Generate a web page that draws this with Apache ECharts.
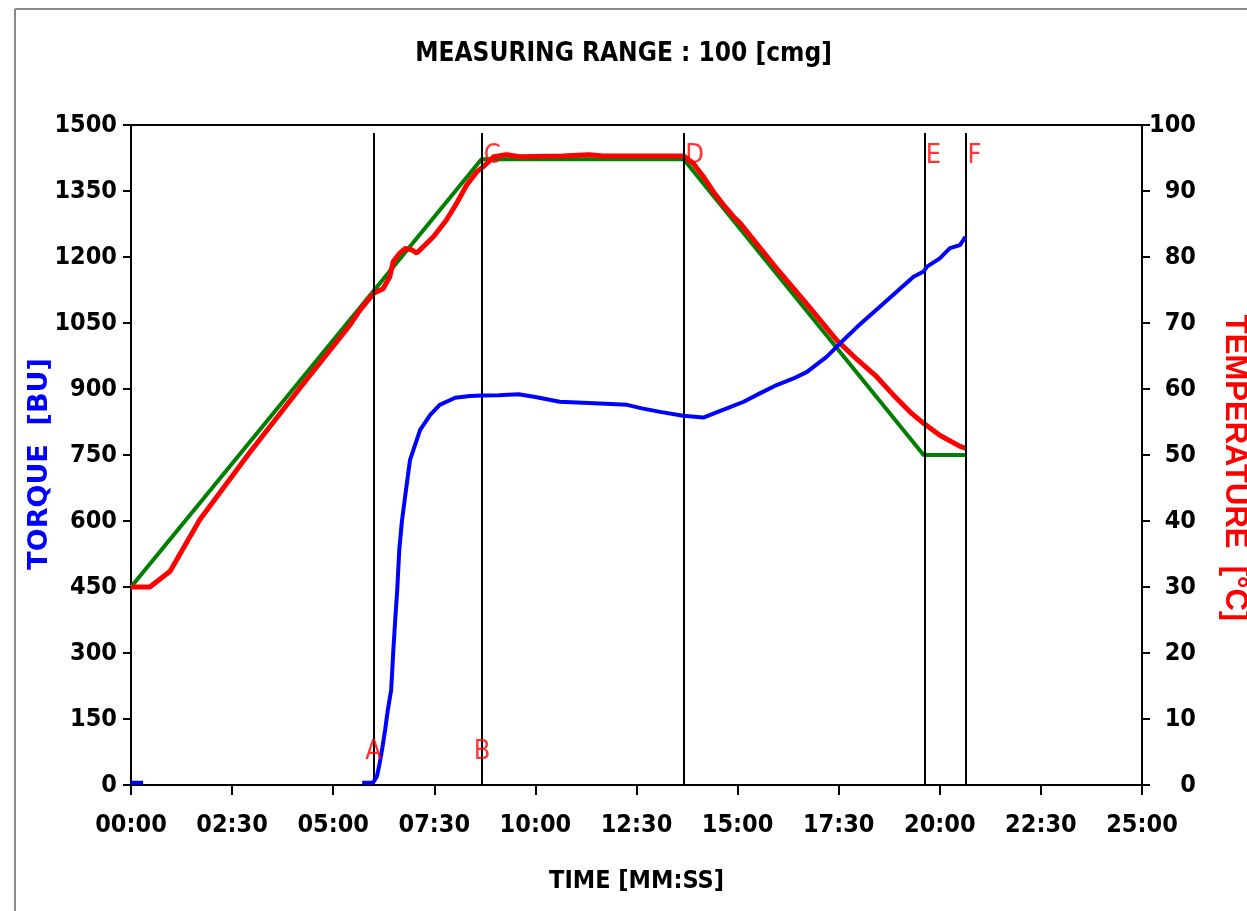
<!DOCTYPE html>
<html>
<head>
<meta charset="utf-8">
<script src="https://cdn.jsdelivr.net/npm/echarts@6/dist/echarts.min.js"></script>
<style>
html,body{margin:0;padding:0;background:#fff;}
#chart{width:1247px;height:911px;}
</style>
</head>
<body>
<div id="chart"></div>
<script>
// ---- data ----
// torque curve [seconds, BU]; null breaks the line where it sits on the axis
const torquePoints = [
  [0,5],[18,5],[200,null],[343,5],[359,5],[365,20],[369,50],[373,85],[377,125],[381,170],
  [386,216],[389,300],[392,375],[395,443],[398,534],[402,600],[407,659],[414,739],[429,807],
  [444,841],[458,864],[481,880],[503,884],[521,885],[545,886],[575,888],[600,882],[636,871],
  [696,867],[736,864],[758,856],[785,848],[819,839],[849,835],[864,844],[884,856],[909,871],
  [933,890],[958,909],[983,924],[1003,939],[1032,973],[1057,1011],[1080,1045],[1111,1087],
  [1131,1114],[1161,1155],[1176,1167],[1181,1178],[1200,1197],[1215,1220],[1230,1227],[1238,1246]
];
// measured temperature [seconds, °C]
const tempPoints = [
  [0,30],[28,30],[58,32.4],[102,40.2],[177,50.5],[251,60.2],[325,69.7],[340,72],[360,74.5],
  [374,75.2],[384,77],[389,79.3],[399,80.6],[407,81.3],[416,81.1],[424,80.6],[434,81.6],
  [449,83.1],[468,85.6],[483,88.1],[498,90.9],[513,92.9],[523,93.7],[538,95.2],[557,95.5],
  [577,95.2],[640,95.3],[680,95.5],[700,95.3],[820,95.3],[834,94.2],[849,92.2],[864,89.9],
  [879,87.9],[894,86.1],[904,85.1],[960,78],[1000,73.2],[1047,67.4],[1078,64.4],[1106,61.9],
  [1131,59.1],[1156,56.5],[1176,54.8],[1200,53],[1230,51.3],[1239,51]
];
// temperature profile (set) [seconds, °C]
const setTempPoints = [[0,30],[520,94.8],[820,94.8],[1176,50],[1239,50]];
// event markers
const markerTimes = [360, 521, 820, 1177, 1239];
const topMarkers = [['C',521],['D',820],['E',1177],['F',1239]];
const bottomMarkers = [['A',360],['B',521]];
// axes
const torqueMax = 1500, torqueStep = 150;
const tempMax = 100, tempStep = 10;
const timeMax = 1500, timeStep = 150;

const narrow = "'DejaVu Sans Condensed','Liberation Sans Narrow',sans-serif";
function mmss(v){const m=Math.floor(v/60),s=Math.round(v%60);return String(m).padStart(2,'0')+':'+String(s).padStart(2,'0');}

const chart = echarts.init(document.getElementById('chart'), null, {renderer:'canvas'});
chart.setOption({
  backgroundColor:'#ffffff',
  animation:false,
  title:{
    text:'MEASURING RANGE : 100 [cmg]', left:'center', top:36,
    textStyle:{fontFamily:narrow, fontWeight:'bold', fontSize:26, color:'#000'}
  },
  grid:{left:131, right:105, top:125, bottom:126, containLabel:false, outerBoundsMode:'none',
        show:true, borderColor:'#000', borderWidth:2, backgroundColor:'transparent'},
  xAxis:{
    type:'value', min:0, max:timeMax, interval:timeStep,
    name:'TIME [MM:SS]', nameLocation:'middle', nameGap:84, nameMoveOverlap:false,
    nameTextStyle:{fontFamily:narrow, fontWeight:'bold', fontSize:25, color:'#000'},
    axisLine:{show:true, lineStyle:{color:'#000', width:2}},
    axisTick:{show:true, length:10, lineStyle:{color:'#000', width:2}},
    axisLabel:{formatter:mmss, margin:28, fontFamily:narrow, fontWeight:'bold', fontSize:25, color:'#000'},
    splitLine:{show:false}
  },
  yAxis:[{
    type:'value', min:0, max:torqueMax, interval:torqueStep, position:'left',
    name:'TORQUE  [BU]', nameLocation:'middle', nameGap:78, nameMoveOverlap:false,
    nameTextStyle:{fontFamily:"'DejaVu Sans',sans-serif", fontWeight:'bold', fontSize:27, color:'#0000ff',
      padding:[0,18,0,0]},
    axisLine:{show:true, lineStyle:{color:'#000', width:2}},
    axisTick:{show:true, length:8, lineStyle:{color:'#000', width:2}},
    axisLabel:{margin:14, formatter:v=>String(v), fontFamily:narrow, fontWeight:'bold', fontSize:25, color:'#000'},
    splitLine:{show:false}
  },{
    type:'value', min:0, max:tempMax, interval:tempStep, position:'right',
    name:'TEMPERATURE  [°C]', nameLocation:'middle', nameGap:77, nameRotate:-90, nameMoveOverlap:false,
    nameTextStyle:{fontFamily:"'Liberation Sans',sans-serif", fontWeight:'bold', fontSize:31, color:'#ff0000',
      padding:[0,0,0,26]},
    axisLine:{show:true, lineStyle:{color:'#000', width:2}},
    axisTick:{show:true, length:8, lineStyle:{color:'#000', width:2}},
    axisLabel:{margin:54, align:'right', formatter:v=>String(v), fontFamily:narrow, fontWeight:'bold', fontSize:25, color:'#000'},
    splitLine:{show:false}
  }],
  graphic:[
    {type:'line', shape:{x1:15, y1:9, x2:1247, y2:9}, style:{stroke:'#8a8a8a', lineWidth:2}},
    {type:'line', shape:{x1:15, y1:9, x2:15, y2:911}, style:{stroke:'#8a8a8a', lineWidth:2}}
  ],
  series:[
    {type:'line', name:'set', yAxisIndex:1, data:setTempPoints, showSymbol:false, symbol:'none',
     lineStyle:{color:'#008000', width:4}, z:3},
    {type:'line', name:'temp', yAxisIndex:1, data:tempPoints, showSymbol:false, symbol:'none',
     lineStyle:{color:'#ff0000', width:5}, z:4},
    {type:'line', name:'torque', yAxisIndex:0, data:torquePoints, showSymbol:false, symbol:'none',
     connectNulls:false, lineStyle:{color:'#0000ff', width:4}, z:5},
    {type:'line', name:'markers', yAxisIndex:0, data:[], z:6,
     markLine:{silent:true, symbol:'none', animation:false, label:{show:false},
       lineStyle:{color:'#000', width:2, type:'solid'},
       data: markerTimes.map(t=>[{coord:[t,0]},{coord:[t,1482]}])}},
    {type:'scatter', name:'topLabels', yAxisIndex:0, symbolSize:1, itemStyle:{color:'rgba(0,0,0,0)'}, z:7,
     data: topMarkers.map(([l,t])=>({name:l, value:[t,1430]})),
     label:{show:true, position:'right', distance:1, formatter:'{b}', color:'#ff0000',
       fontFamily:narrow, fontSize:27}},
    {type:'scatter', name:'bottomLabels', yAxisIndex:0, symbolSize:1, itemStyle:{color:'rgba(0,0,0,0)'}, z:7,
     data: bottomMarkers.map(([l,t])=>({name:l, value:[t,76]})),
     label:{show:true, position:'inside', formatter:'{b}', color:'#ff0000',
       fontFamily:narrow, fontSize:27}}
  ]
});
</script>
</body>
</html>
